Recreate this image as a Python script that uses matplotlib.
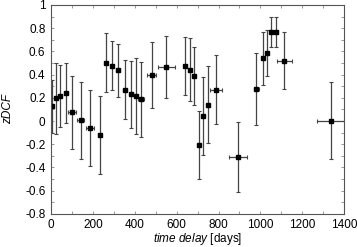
import numpy as np
import matplotlib
matplotlib.use("Agg")
import matplotlib.pyplot as plt
from matplotlib.ticker import MultipleLocator

# zDCF points
lag = [3, 24, 45, 72, 99, 142, 187, 232, 264, 291, 320, 352, 384, 407, 430,
       481, 551, 641, 664, 683, 706, 727, 750, 786, 893, 981, 1013, 1031,
       1052, 1074, 1114, 1335]
lag_err = [3, 5, 5, 8, 19, 16, 19, 8, 5, 6, 8, 10, 8, 6, 13,
           22, 42, 8, 5, 6, 4, 4, 5, 29, 45, 13, 5, 5,
           8, 8, 35, 66]
zdcf = [0.13, 0.20, 0.215, 0.245, 0.08, 0.01, -0.06, -0.12, 0.50, 0.475, 0.44,
        0.27, 0.23, 0.215, 0.19, 0.40, 0.465, 0.47, 0.44, 0.39, -0.21, 0.04,
        0.14, 0.27, -0.31, 0.275, 0.54, 0.59, 0.77, 0.765, 0.52, 0.0]
zdcf_hi = [0.35, 0.50, 0.48, 0.50, 0.39, 0.34, 0.27, 0.215, 0.755, 0.69, 0.66,
           0.53, 0.52, 0.54, 0.51, 0.68, 0.73, 0.72, 0.715, 0.635, 0.086, 0.38,
           0.47, 0.57, -0.005, 0.59, 0.77, 0.785, 0.90, 0.90, 0.77, 0.34]
zdcf_lo = [-0.10, -0.11, -0.05, -0.02, -0.24, -0.33, -0.39, -0.46, 0.25, 0.27, 0.21,
           0.015, -0.06, -0.11, -0.135, 0.11, 0.20, 0.22, 0.17, 0.14, -0.50, -0.29,
           -0.19, -0.026, -0.61, -0.035, 0.31, 0.39, 0.635, 0.635, 0.275, -0.33]

plt.rcParams['font.family'] = ['Liberation Sans', 'DejaVu Sans']
plt.rcParams['font.size'] = 8.5
plt.rcParams['mathtext.fontset'] = 'custom'
plt.rcParams['mathtext.rm'] = 'Liberation Sans'
plt.rcParams['mathtext.it'] = 'Liberation Sans:italic'

z = np.array(zdcf)
yerr = [z - np.array(zdcf_lo), np.array(zdcf_hi) - z]

fig = plt.figure(figsize=(3.57, 2.47), dpi=100)
ax = fig.add_axes([0.143, 0.134, 0.821, 0.846])

ax.errorbar(lag, zdcf, xerr=lag_err, yerr=yerr, fmt='s', ms=2.8,
            mfc='black', mec='black', ecolor='#444444', elinewidth=0.9,
            capsize=1.5, capthick=0.8)

ax.set_xlim(0, 1400)
ax.set_ylim(-0.8, 1)
ax.xaxis.set_major_locator(MultipleLocator(200))
ax.xaxis.set_minor_locator(MultipleLocator(100))
ax.yaxis.set_major_locator(MultipleLocator(0.2))
ax.yaxis.set_minor_locator(MultipleLocator(0.1))
ax.set_yticklabels([('%g' % v) for v in ax.get_yticks()])
ax.tick_params(which='both', direction='in', top=True, right=True,
               color='#888888', length=2.5, width=0.6, pad=4)
for s in ax.spines.values():
    s.set_color('#555555')
    s.set_linewidth(0.8)

ax.set_ylabel('zDCF', style='italic')
ax.yaxis.set_label_coords(-0.125, 0.5)
ax.set_xlabel('$\\mathit{time\\ delay}$ [days]')
ax.xaxis.set_label_coords(0.5, -0.082)

fig.savefig('out.png', dpi=100)
